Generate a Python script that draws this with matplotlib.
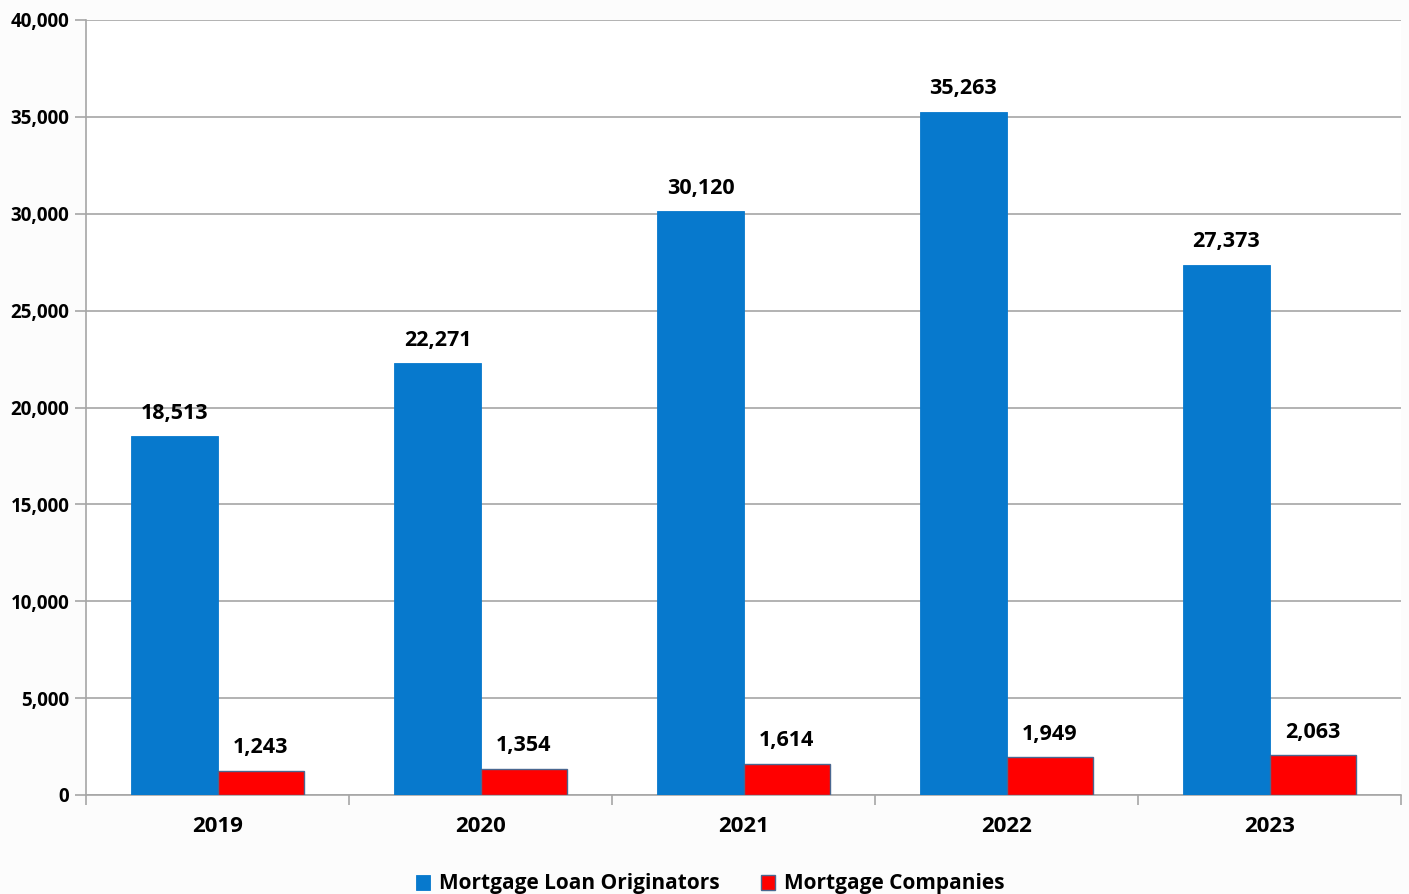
import matplotlib
matplotlib.use("Agg")
import matplotlib.pyplot as plt
from matplotlib.ticker import FuncFormatter, MultipleLocator
import numpy as np

years = ["2019", "2020", "2021", "2022", "2023"]
originators = [18513, 22271, 30120, 35263, 27373]
companies = [1243, 1354, 1614, 1949, 2063]

plt.rcParams["font.family"] = ["Open Sans", "DejaVu Sans"]
plt.rcParams["font.weight"] = "bold"

fig = plt.figure(figsize=(14.09, 8.94), dpi=100, facecolor="#fcfcfc")
ax = fig.add_axes([86 / 1409, 1 - 795 / 894, (1401 - 86) / 1409, (795 - 20) / 894])
ax.set_facecolor("white")

x = np.arange(len(years))
w = 0.327
blue = "#0779cd"
red = "#ff0000"
b1 = ax.bar(x - w / 2, originators, w, color=blue, edgecolor=blue, linewidth=0.6,
            label="Mortgage Loan Originators", zorder=3)
b2 = ax.bar(x + w / 2, companies, w, color=red, edgecolor="#4a6790", linewidth=1.0,
            label="Mortgage Companies", zorder=3)

for bars, vals in ((b1, originators), (b2, companies)):
    for r, v in zip(bars, vals):
        ax.annotate(f"{v:,}", (r.get_x() + r.get_width() / 2, v), xytext=(0, 9),
                    textcoords="offset points", ha="center", va="bottom",
                    fontsize=15.5, fontweight="bold", color="black")

ax.set_xlim(-0.5, len(years) - 0.5)
ax.set_ylim(0, 40000)
ax.yaxis.set_major_locator(MultipleLocator(5000))
ax.yaxis.set_major_formatter(FuncFormatter(lambda v, p: f"{int(v):,}"))
ax.grid(axis="y", color="#a6a6a6", linewidth=1.2, zorder=0)

ax.set_xticks(x)
ax.set_xticklabels(years, fontweight="bold")
ax.set_xticks(np.arange(len(years) + 1) - 0.5, minor=True)
ax.tick_params(axis="x", which="major", length=0, pad=15, labelsize=16)
ax.tick_params(axis="x", which="minor", length=7, color="#a6a6a6", width=1.2, direction="out")
ax.tick_params(axis="y", length=8, color="#a6a6a6", width=1.2, labelsize=13.5, pad=4)
for lab in ax.get_yticklabels():
    lab.set_fontweight("bold")

for side in ("top", "right"):
    ax.spines[side].set_visible(False)
for side in ("left", "bottom"):
    ax.spines[side].set_color("#a6a6a6")
    ax.spines[side].set_linewidth(1.2)

fig.legend(handles=[b1, b2], loc="center", bbox_to_anchor=(710 / 1409, 1 - 884 / 894),
           ncol=2, frameon=False, prop={"size": 15, "weight": "bold"},
           handlelength=0.7, handleheight=0.7, columnspacing=2.0, handletextpad=0.4)

fig.savefig("out.png", dpi=100, facecolor=fig.get_facecolor())
